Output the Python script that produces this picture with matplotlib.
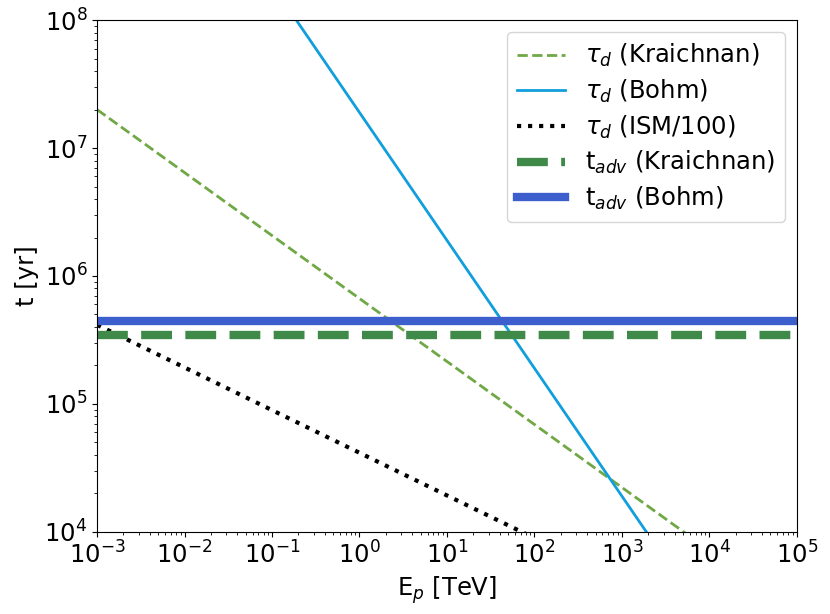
import numpy as np
import matplotlib
matplotlib.use("Agg")
import matplotlib.pyplot as plt

# energy range [TeV] and line endpoints [yr]
E_range = [1e-3, 1e5]
tau_kraichnan = [2.0e7, 2.3e3]
tau_bohm = [1.9e10, 1.9e2]
tau_ism = [4.15e5, 8.9e2]
t_adv_kraichnan = [3.45e5, 3.45e5]
t_adv_bohm = [4.45e5, 4.45e5]

FS = 17.5

fig = plt.figure(figsize=(8.3, 6.14), dpi=100)
ax = fig.add_axes([0.117, 0.134, 0.843, 0.833])

ax.plot(E_range, tau_kraichnan, ls='--', color='#70a845', lw=2, label=r'$\tau_d$ (Kraichnan)')
ax.plot(E_range, tau_bohm, ls='-', color='#109fdc', lw=2, label=r'$\tau_d$ (Bohm)')
ax.plot(E_range, tau_ism, ls=':', color='black', lw=3, label=r'$\tau_d$ (ISM/100)')
ax.plot(E_range, t_adv_kraichnan, ls='--', color='#3f8a48', lw=6, label=r't$_{adv}$ (Kraichnan)')
ax.plot(E_range, t_adv_bohm, ls='-', color='#3d5fcd', lw=6, label=r't$_{adv}$ (Bohm)')

ax.set_xscale('log')
ax.set_yscale('log')
ax.set_xlim(1e-3, 1e5)
ax.set_ylim(1e4, 1e8)
ax.set_xticks([10.0**k for k in range(-3, 6)])
ax.tick_params(labelsize=FS)
ax.set_xlabel(r'E$_p$ [TeV]', fontsize=FS)
ax.set_ylabel('t [yr]', fontsize=FS)
ax.legend(fontsize=FS, loc='upper right', labelspacing=0.35)

fig.savefig('out.png', dpi=100)
